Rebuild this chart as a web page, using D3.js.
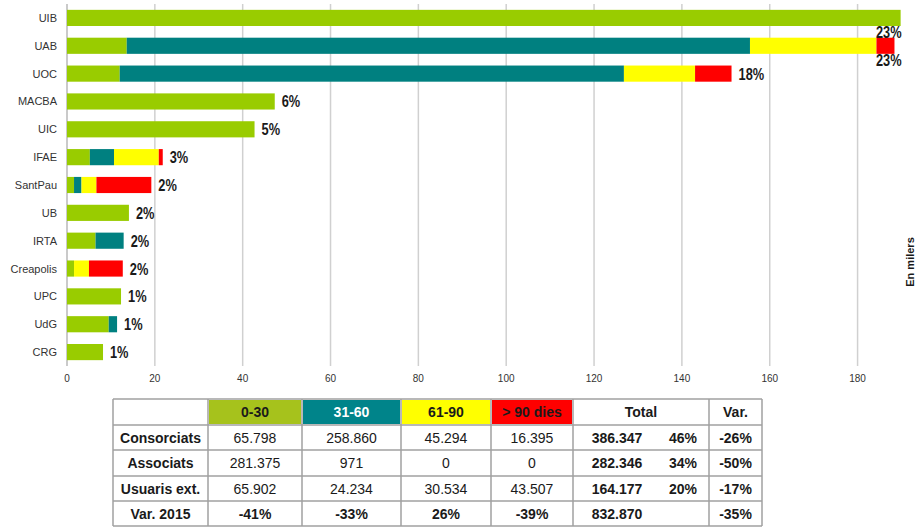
<!DOCTYPE html>
<html>
<head>
<meta charset="utf-8">
<script src="https://cdn.jsdelivr.net/npm/d3@7"></script>
<style>
  body { margin: 0; background: #fff; }
  svg { display: block; font-family: "Liberation Sans", Arial, sans-serif; }
</style>
</head>
<body>
<svg id="chart" width="920" height="527"></svg>
<script>
// Dades (en milers)
const units = ["UIB", "UAB", "UOC", "MACBA", "UIC", "IFAE", "SantPau", "UB", "IRTA", "Creapolis", "UPC", "UdG", "CRG"];
const d0_30 = [189.8, 13.6, 12.0, 47.3, 42.7, 5.2, 1.6, 14.1, 6.5, 1.6, 12.3, 9.5, 8.2];
const d31_60 = [0, 141.9, 114.8, 0, 0, 5.5, 1.7, 0, 6.4, 0, 0, 1.9, 0];
const d61_90 = [0, 28.8, 16.2, 0, 0, 10.2, 3.4, 0, 0, 3.4, 0, 0, 0];
const d90 = [0, 4.1, 8.3, 0, 0, 0.9, 12.5, 0, 0, 7.7, 0, 0, 0];
const pctLabels = ["23%", "23%", "18%", "6%", "5%", "3%", "2%", "2%", "2%", "2%", "1%", "1%", "1%"];
const xTicks = [0, 20, 40, 60, 80, 100, 120, 140, 160, 180];

// Taula
const tableHeaders = ["", "0-30", "31-60", "61-90", "> 90 dies", "Total", "Var."];
const rowNames = ["Consorciats", "Associats", "Usuaris ext.", "Var. 2015"];
const col0_30 = ["65.798", "281.375", "65.902", "-41%"];
const col31_60 = ["258.860", "971", "24.234", "-33%"];
const col61_90 = ["45.294", "0", "30.534", "26%"];
const col90 = ["16.395", "0", "43.507", "-39%"];
const colTotal = ["386.347", "282.346", "164.177", "832.870"];
const colTotalPct = ["46%", "34%", "20%", ""];
const colVar = ["-26%", "-50%", "-17%", "-35%"];

const keys = ["t0", "t1", "t2", "t3"];
const barColors = ["#99cc00", "#008080", "#ffff00", "#ff0000"];
const headColors = [null, "#a6c21c", "#00848a", "#ffff00", "#ff0000", null, null];
const headText = [null, "#1a1a1a", "#ffffff", "#1a1a1a", "#1a1a1a", "#1a1a1a", "#1a1a1a"];

const svg = d3.select("#chart"),
    width = +svg.attr("width"),
    height = +svg.attr("height");

const rows = units.map(function(u, i) {
    return {unit: u, t0: d0_30[i], t1: d31_60[i], t2: d61_90[i], t3: d90[i], pct: pctLabels[i]};
});

const x = d3.scaleLinear().domain([0, 190]).range([67, 901.5]);
const y = d3.scaleBand().domain(units).range([4, 366]).paddingInner(0.42).paddingOuter(0.21);

// grid
svg.append("g")
    .selectAll("line")
    .data(xTicks)
    .enter()
    .append("line")
    .attr("x1", d => x(d)).attr("x2", d => x(d))
    .attr("y1", 4).attr("y2", 366)
    .attr("stroke", d => d === 0 ? "#b8b8b8" : "#d0d0d0")
    .attr("stroke-width", 1.5);

// x axis labels
svg.append("g")
    .selectAll("text")
    .data(xTicks)
    .enter()
    .append("text")
    .attr("x", d => x(d))
    .attr("y", 382)
    .attr("text-anchor", "middle")
    .attr("font-size", 10)
    .attr("fill", "#333")
    .text(d => d);

// category labels
svg.append("g")
    .selectAll("text")
    .data(units)
    .enter()
    .append("text")
    .attr("x", 57)
    .attr("y", d => y(d) + y.bandwidth() / 2 + 4)
    .attr("text-anchor", "end")
    .attr("font-size", 11)
    .attr("fill", "#333")
    .text(d => d);

// stacked bars
const series = d3.stack().keys(keys)(rows);
svg.append("g")
    .selectAll("g")
    .data(series)
    .enter()
    .append("g")
    .attr("fill", (d, i) => barColors[i])
    .selectAll("rect")
    .data(d => d)
    .enter()
    .append("rect")
    .attr("x", d => x(d[0]))
    .attr("y", d => y(d.data.unit))
    .attr("width", d => x(d[1]) - x(d[0]))
    .attr("height", y.bandwidth());

// percent labels (condensed look)
svg.append("g")
    .selectAll("text")
    .data(rows)
    .enter()
    .append("text")
    .each(function(d) {
        let end = x(d.t0 + d.t1 + d.t2 + d.t3);
        let t = d3.select(this);
        if (end + 40 > x.range()[1]) {
            t.attr("transform", "translate(" + x.range()[1] + "," + (y(d.unit) + y.bandwidth() + 12) + ") scale(0.8,1)")
             .attr("text-anchor", "end");
        } else {
            t.attr("transform", "translate(" + (end + 7) + "," + (y(d.unit) + y.bandwidth() / 2 + 6) + ") scale(0.8,1)");
        }
    })
    .attr("font-size", 16)
    .attr("font-weight", "bold")
    .attr("fill", "#1a1a1a")
    .text(d => d.pct);

// axis title
svg.append("text")
    .attr("transform", "translate(914,262) rotate(-90)")
    .attr("text-anchor", "middle")
    .attr("font-size", 11)
    .attr("font-weight", "bold")
    .attr("fill", "#1a1a1a")
    .text("En milers");

// table
const colEdges = [113, 208, 302, 401, 491, 573, 709, 762];
const rowEdges = [399, 425, 450, 476, 501, 526];
const table = svg.append("g");

tableHeaders.forEach(function(h, c) {
    if (headColors[c]) {
        table.append("rect")
            .attr("x", colEdges[c] + 1).attr("y", rowEdges[0] + 1)
            .attr("width", colEdges[c + 1] - colEdges[c] - 2)
            .attr("height", rowEdges[1] - rowEdges[0] - 2)
            .attr("fill", headColors[c]);
    }
    table.append("text")
        .attr("x", (colEdges[c] + colEdges[c + 1]) / 2)
        .attr("y", (rowEdges[0] + rowEdges[1]) / 2 + 5)
        .attr("text-anchor", "middle")
        .attr("font-size", 14)
        .attr("font-weight", "bold")
        .attr("fill", headText[c] || "#1a1a1a")
        .text(h);
});

const bodyCols = [rowNames, col0_30, col31_60, col61_90, col90];
rowNames.forEach(function(r, i) {
    let cy = (rowEdges[i + 1] + rowEdges[i + 2]) / 2 + 5;
    let lastRow = i === rowNames.length - 1;
    bodyCols.forEach(function(col, c) {
        table.append("text")
            .attr("x", (colEdges[c] + colEdges[c + 1]) / 2)
            .attr("y", cy)
            .attr("text-anchor", "middle")
            .attr("font-size", 14)
            .attr("font-weight", (c === 0 || lastRow) ? "bold" : "normal")
            .attr("fill", "#1a1a1a")
            .text(col[i]);
    });
    table.append("text")
        .attr("x", colEdges[5] + 44).attr("y", cy)
        .attr("text-anchor", "middle")
        .attr("font-size", 14).attr("font-weight", "bold").attr("fill", "#1a1a1a")
        .text(colTotal[i]);
    table.append("text")
        .attr("x", colEdges[5] + 110).attr("y", cy)
        .attr("text-anchor", "middle")
        .attr("font-size", 14).attr("font-weight", "bold").attr("fill", "#1a1a1a")
        .text(colTotalPct[i]);
    table.append("text")
        .attr("x", (colEdges[6] + colEdges[7]) / 2).attr("y", cy)
        .attr("text-anchor", "middle")
        .attr("font-size", 14).attr("font-weight", "bold").attr("fill", "#1a1a1a")
        .text(colVar[i]);
});

// borders
table.selectAll("line.v")
    .data(colEdges)
    .enter()
    .append("line")
    .attr("x1", d => d).attr("x2", d => d)
    .attr("y1", rowEdges[0]).attr("y2", rowEdges[rowEdges.length - 1])
    .attr("stroke", "#a0a0a0").attr("stroke-width", 1.5);
table.selectAll("line.h")
    .data(rowEdges)
    .enter()
    .append("line")
    .attr("x1", colEdges[0]).attr("x2", colEdges[colEdges.length - 1])
    .attr("y1", d => d).attr("y2", d => d)
    .attr("stroke", "#a0a0a0").attr("stroke-width", 1.5);
</script>
</body>
</html>
